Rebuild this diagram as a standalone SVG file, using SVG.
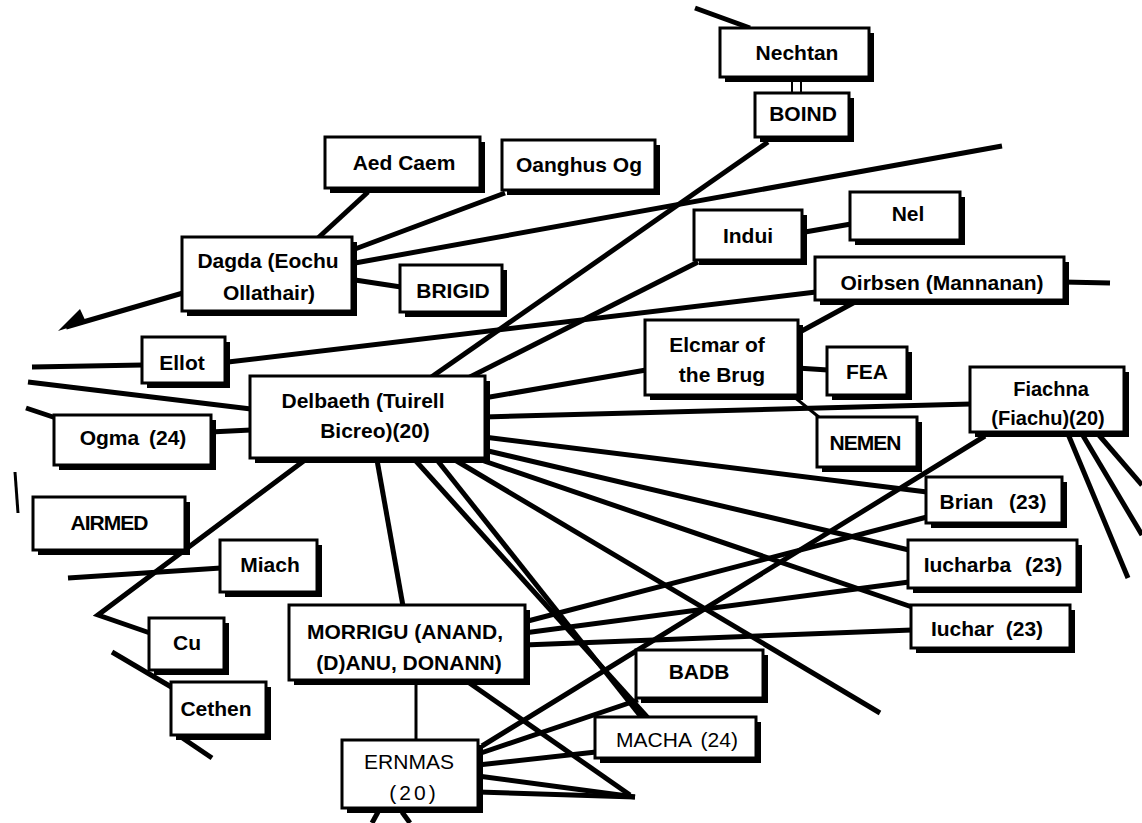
<svg xmlns="http://www.w3.org/2000/svg" width="1142" height="823" viewBox="0 0 1142 823">
<style>
.c{stroke:#000;stroke-width:5;fill:none;stroke-linecap:butt;stroke-linejoin:miter}
.thin{stroke-width:3}
.hair{stroke-width:2}
.sh{fill:#000}
.bx{fill:#fff;stroke:#000;stroke-width:3}
.t{font-family:"Liberation Sans",Arial,Helvetica,sans-serif;font-size:21px;font-weight:bold;text-anchor:middle;fill:#000}
.r{font-weight:normal}
</style>
<rect width="1142" height="823" fill="#fff"/>
<g id="connectors">
<line class="c" x1="695" y1="8" x2="750" y2="28"/>
<line class="c hair" x1="792" y1="76" x2="792" y2="94"/>
<line class="c hair" x1="801" y1="76" x2="801" y2="94"/>
<line class="c" x1="768" y1="142" x2="430" y2="378"/>
<line class="c" x1="698" y1="262" x2="468" y2="378"/>
<line class="c" x1="805" y1="232" x2="851" y2="224"/>
<line class="c" x1="368" y1="192" x2="318" y2="238"/>
<line class="c" x1="505" y1="193" x2="355" y2="249"/>
<line class="c" x1="355" y1="263" x2="1002" y2="146"/>
<line class="c" x1="355" y1="280" x2="401" y2="287"/>
<line class="c" x1="183" y1="293" x2="66" y2="327"/>
<polygon points="58,331 80,309 86,322" fill="#000"/>
<line class="c" x1="32" y1="367" x2="143" y2="365"/>
<line class="c" x1="228" y1="362" x2="816" y2="292"/>
<line class="c" x1="28" y1="382" x2="251" y2="409"/>
<line class="c" x1="26" y1="408" x2="56" y2="418"/>
<line class="c" x1="210" y1="432" x2="251" y2="430"/>
<line class="c" x1="484" y1="398" x2="646" y2="370"/>
<line class="c" x1="484" y1="417" x2="971" y2="404"/>
<line class="c" x1="798" y1="333" x2="855" y2="302"/>
<line class="c" x1="797" y1="368" x2="828" y2="370"/>
<line class="c thin" x1="793" y1="396" x2="820" y2="418"/>
<line class="c" x1="1063" y1="282" x2="1110" y2="283"/>
<line class="c" x1="484" y1="437" x2="927" y2="492"/>
<line class="c" x1="484" y1="450" x2="909" y2="550"/>
<line class="c" x1="484" y1="461" x2="912" y2="607"/>
<line class="c" x1="415" y1="460" x2="648" y2="718"/>
<line class="c" x1="437" y1="460" x2="642" y2="718"/>
<line class="c" x1="455" y1="460" x2="880" y2="713"/>
<polyline class="c" points="305,460 98,615 150,633"/>
<line class="c" x1="377" y1="460" x2="403" y2="606"/>
<line class="c" x1="68" y1="578" x2="221" y2="568"/>
<line class="c" x1="112" y1="652" x2="173" y2="688"/>
<line class="c" x1="178" y1="735" x2="212" y2="758"/>
<line class="c thin" x1="15" y1="472" x2="18" y2="513"/>
<line class="c" x1="985" y1="436" x2="482" y2="746"/>
<line class="c" x1="1068" y1="434" x2="1128" y2="578"/>
<line class="c" x1="1082" y1="434" x2="1142" y2="535"/>
<line class="c" x1="1098" y1="434" x2="1142" y2="485"/>
<line class="c" x1="524" y1="622" x2="927" y2="517"/>
<line class="c" x1="524" y1="633" x2="909" y2="582"/>
<line class="c" x1="524" y1="645" x2="912" y2="630"/>
<line class="c thin" x1="416" y1="678" x2="416" y2="741"/>
<line class="c" x1="478" y1="754" x2="638" y2="700"/>
<line class="c" x1="478" y1="765" x2="596" y2="752"/>
<line class="c" x1="478" y1="776" x2="635" y2="797"/>
<line class="c" x1="478" y1="792" x2="635" y2="797"/>
<line class="c" x1="468" y1="682" x2="630" y2="795"/>
<line class="c" x1="378" y1="812" x2="372" y2="823"/>
<line class="c" x1="402" y1="812" x2="410" y2="823"/>
</g>
<g id="n-nechtan"><rect class="sh" x="725" y="33" width="149" height="49"/><rect class="bx" x="720" y="28" width="149" height="49"/><text class="t" x="797" y="60">Nechtan</text></g>
<g id="n-boind"><rect class="sh" x="760" y="98" width="94" height="44"/><rect class="bx" x="755" y="93" width="94" height="44"/><text class="t" x="803" y="121">BOIND</text></g>
<g id="n-aedcaem"><rect class="sh" x="330" y="142" width="155" height="51"/><rect class="bx" x="325" y="137" width="155" height="51"/><text class="t" x="404" y="170">Aed Caem</text></g>
<g id="n-oanghus"><rect class="sh" x="507" y="145" width="153" height="50"/><rect class="bx" x="502" y="140" width="153" height="50"/><text class="t" x="579" y="172">Oanghus Og</text></g>
<g id="n-dagda"><rect class="sh" x="187" y="242" width="170" height="74"/><rect class="bx" x="182" y="237" width="170" height="74"/><text class="t" x="268" y="268">Dagda (Eochu</text><text class="t" x="269" y="300">Ollathair)</text></g>
<g id="n-brigid"><rect class="sh" x="405" y="270" width="102" height="47"/><rect class="bx" x="400" y="265" width="102" height="47"/><text class="t" x="453" y="298">BRIGID</text></g>
<g id="n-indui"><rect class="sh" x="699" y="215" width="108" height="50"/><rect class="bx" x="694" y="210" width="108" height="50"/><text class="t" x="748" y="243">Indui</text></g>
<g id="n-nel"><rect class="sh" x="855" y="197" width="110" height="48"/><rect class="bx" x="850" y="192" width="110" height="48"/><text class="t" x="908" y="221">Nel</text></g>
<g id="n-oirbsen"><rect class="sh" x="820" y="262" width="249" height="43"/><rect class="bx" x="815" y="257" width="249" height="43"/><text class="t" x="942" y="290">Oirbsen (Mannanan)</text></g>
<g id="n-elcmar"><rect class="sh" x="650" y="325" width="153" height="75"/><rect class="bx" x="645" y="320" width="153" height="75"/><text class="t" x="717" y="352">Elcmar of</text><text class="t" x="722" y="382">the Brug</text></g>
<g id="n-fea"><rect class="sh" x="832" y="352" width="80" height="48"/><rect class="bx" x="827" y="347" width="80" height="48"/><text class="t" x="867" y="379">FEA</text></g>
<g id="n-nemen"><rect class="sh" x="822" y="422" width="100" height="50"/><rect class="bx" x="817" y="417" width="100" height="50"/><text class="t" x="865" y="450" style="letter-spacing:-1px">NEMEN</text></g>
<g id="n-fiachna"><rect class="sh" x="975" y="372" width="154" height="65"/><rect class="bx" x="970" y="367" width="154" height="65"/><text class="t" x="1051" y="396" style="font-size:20px">Fiachna</text><text class="t" x="1048" y="425" style="font-size:20px">(Fiachu)(20)</text></g>
<g id="n-ellot"><rect class="sh" x="147" y="342" width="83" height="46"/><rect class="bx" x="142" y="337" width="83" height="46"/><text class="t" x="182" y="370">Ellot</text></g>
<g id="n-delbaeth"><rect class="sh" x="255" y="381" width="235" height="82"/><rect class="bx" x="250" y="376" width="235" height="82"/><text class="t" x="363" y="408">Delbaeth (Tuirell</text><text class="t" x="375" y="438">Bicreo)(20)</text></g>
<g id="n-ogma"><rect class="sh" x="59" y="420" width="157" height="50"/><rect class="bx" x="54" y="415" width="157" height="50"/><text class="t" x="133" y="445" style="word-spacing:4px">Ogma (24)</text></g>
<g id="n-airmed"><rect class="sh" x="38" y="502" width="152" height="53"/><rect class="bx" x="33" y="497" width="152" height="53"/><text class="t" x="109" y="530" style="letter-spacing:-1px">AIRMED</text></g>
<g id="n-miach"><rect class="sh" x="225" y="545" width="97" height="52"/><rect class="bx" x="220" y="540" width="97" height="52"/><text class="t" x="270" y="572">Miach</text></g>
<g id="n-cu"><rect class="sh" x="154" y="623" width="75" height="52"/><rect class="bx" x="149" y="618" width="75" height="52"/><text class="t" x="187" y="650">Cu</text></g>
<g id="n-cethen"><rect class="sh" x="176" y="687" width="95" height="53"/><rect class="bx" x="171" y="682" width="95" height="53"/><text class="t" x="216" y="716">Cethen</text></g>
<g id="n-morrigu"><rect class="sh" x="294" y="610" width="236" height="75"/><rect class="bx" x="289" y="605" width="236" height="75"/><text class="t" x="405" y="639">MORRIGU (ANAND,</text><text class="t" x="409" y="670">(D)ANU, DONANN)</text></g>
<g id="n-badb"><rect class="sh" x="641" y="655" width="127" height="48"/><rect class="bx" x="636" y="650" width="127" height="48"/><text class="t" x="699" y="679">BADB</text></g>
<g id="n-ernmas"><rect class="sh" x="347" y="745" width="136" height="68"/><rect class="bx" x="342" y="740" width="136" height="68"/><text class="t r" x="409" y="769">ERNMAS</text><text class="t r" x="414" y="800" style="letter-spacing:3px">(20)</text></g>
<g id="n-macha"><rect class="sh" x="600" y="722" width="161" height="41"/><rect class="bx" x="595" y="717" width="161" height="41"/><text class="t r" x="677" y="747" style="word-spacing:4px">MACHA (24)</text></g>
<g id="n-brian"><rect class="sh" x="931" y="482" width="136" height="46"/><rect class="bx" x="926" y="477" width="136" height="46"/><text class="t" x="993" y="509" style="word-spacing:10px">Brian (23)</text></g>
<g id="n-iucharba"><rect class="sh" x="913" y="545" width="169" height="48"/><rect class="bx" x="908" y="540" width="169" height="48"/><text class="t" x="993" y="572" style="word-spacing:8px">Iucharba (23)</text></g>
<g id="n-iuchar"><rect class="sh" x="916" y="610" width="159" height="43"/><rect class="bx" x="911" y="605" width="159" height="43"/><text class="t" x="987" y="636" style="word-spacing:6px">Iuchar (23)</text></g>
</svg>
